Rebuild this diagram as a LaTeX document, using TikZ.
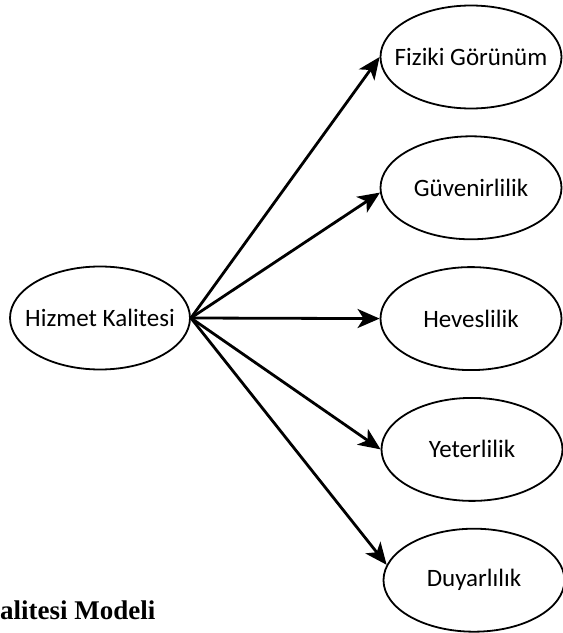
\documentclass[tikz,border=0pt]{standalone}
\usepackage{fontspec}
\setmainfont{Carlito}
\newfontfamily\captionserif{Liberation Serif}
\usepackage{tikz}
\usetikzlibrary{shapes.geometric, arrows.meta, positioning}

\begin{document}
\begin{tikzpicture}[
        x=1pt, y=1pt,
        dim_box/.style={
            draw, ellipse, line width=1.8pt, minimum width=181pt, minimum height=103pt,
            inner xsep=-20pt, inner ysep=0pt, align=center, font=\fontsize{25}{29}\selectfont
        },
        dim_arrow/.style={
            line width=2.8pt, -{Stealth[length=22pt, width=19pt, inset=6pt]}
        }
    ]
    \useasboundingbox (0,0) rectangle (563,633);

    % Main construct
    \node[dim_box, minimum width=180pt] (HK) at (100,315) {Hizmet Kalitesi};

    % Dimensions (top to bottom)
    \node[dim_box] (FG) at (471,576) {Fiziki Görünüm};
    \node[dim_box, below=26pt of FG] (GV) {Güvenirlilik};
    \node[dim_box, below=26pt of GV] (HV) {Heveslilik};
    \node[dim_box, below=26pt of HV, xshift=1pt] (YT) {Yeterlilik};
    \node[dim_box, below=26pt of YT, xshift=2pt] (DY) {Duyarlılık};

    % Arrows
    \draw[dim_arrow] (HK.east) -- (FG.west);
    \draw[dim_arrow] (HK.east) -- (GV.183);
    \draw[dim_arrow] (HK.east) -- (HV.west);
    \draw[dim_arrow] (HK.east) -- (YT.west);
    \draw[dim_arrow] (HK.east) -- (DY.170);

    % Caption (cut off at the left edge)
    \node[anchor=base west, inner sep=0pt, font=\captionserif\bfseries\fontsize{27}{30}\selectfont] (CAP) at (0,13) {alitesi Modeli};

\end{tikzpicture}
\end{document}
